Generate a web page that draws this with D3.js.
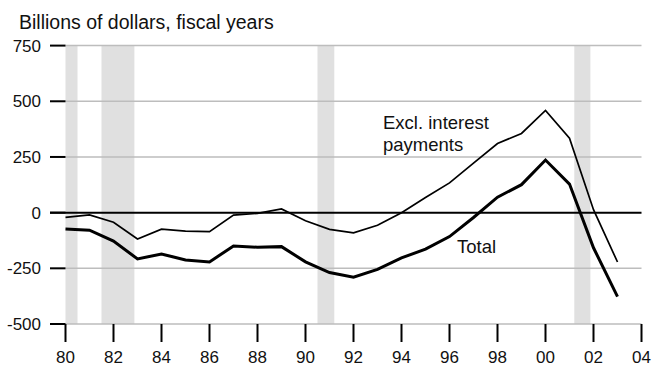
<!DOCTYPE html>
<html><head><meta charset="utf-8">
<script src="https://cdn.jsdelivr.net/npm/d3@7"></script>
<style>
html,body{margin:0;padding:0;background:#fff;}
svg{display:block;font-family:"Liberation Sans",Arial,Helvetica,sans-serif;}
</style></head>
<body>
<svg id="c" width="652" height="366"></svg>
<script>
const years = [1980,1981,1982,1983,1984,1985,1986,1987,1988,1989,1990,1991,1992,1993,1994,1995,1996,1997,1998,1999,2000,2001,2002,2003];
const total = [-73.8,-79.0,-128.0,-207.8,-185.4,-212.3,-221.2,-149.7,-155.2,-152.6,-221.0,-269.2,-290.3,-255.1,-203.2,-164.0,-107.4,-21.9,69.3,125.6,236.2,128.2,-157.8,-377.0];
const exclInterest = [-21.3,-10.2,-43.0,-118.0,-74.3,-82.8,-85.2,-11.1,-3.4,16.4,-36.7,-74.8,-91.0,-56.4,-0.3,68.1,133.7,222.1,310.4,355.4,459.1,334.4,13.2,-221.7];
const recessions = [[1980.0,1980.5],[1981.5,1982.87],[1990.5,1991.2],[2001.2,2001.87]];
const yTicks = [-500,-250,0,250,500,750];
const xTicks = [1980,1982,1984,1986,1988,1990,1992,1994,1996,1998,2000,2002,2004];
const xTickLabels = ["80","82","84","86","88","90","92","94","96","98","00","02","04"];
const yTitle = "Billions of dollars, fiscal years";
const labelExcl = ["Excl. interest","payments"];
const labelTotal = "Total";

const svg = d3.select("#c");
const x = d3.scaleLinear().domain([1980,2004]).range([65.5,641.5]);
const y = d3.scaleLinear().domain([-500,750]).range([324,45.6]);

// recession bands
svg.append("g").selectAll("rect").data(recessions).join("rect")
  .attr("x", d=>x(d[0])).attr("width", d=>x(d[1])-x(d[0]))
  .attr("y", y(750)).attr("height", y(-500)-y(750))
  .attr("fill","#e0e0e0");

// gridlines
svg.append("g").selectAll("line").data(yTicks.filter(v=>v!==0)).join("line")
  .attr("x1", x(1980)).attr("x2", x(2004))
  .attr("y1", d=>y(d)).attr("y2", d=>y(d))
  .attr("stroke","#bdbdbd").attr("stroke-width",1.5);

// y tick marks
svg.append("g").selectAll("line").data(yTicks).join("line")
  .attr("x1", 50).attr("x2", x(1980))
  .attr("y1", d=>y(d)).attr("y2", d=>y(d))
  .attr("stroke","#000").attr("stroke-width",2);

// zero line
svg.append("line").attr("x1",50).attr("x2",x(2004)).attr("y1",y(0)).attr("y2",y(0))
  .attr("stroke","#000").attr("stroke-width",2);

// y labels
svg.append("g").selectAll("text").data(yTicks).join("text")
  .attr("x", 41).attr("y", d=>y(d)).attr("dy","0.36em")
  .attr("text-anchor","end").attr("font-size",17).attr("fill","#111")
  .text(d=>d);

// x ticks
svg.append("g").selectAll("line").data(xTicks).join("line")
  .attr("x1", d=>x(d)).attr("x2", d=>x(d))
  .attr("y1", y(-500)).attr("y2", y(-500)+18)
  .attr("stroke","#000").attr("stroke-width",2);
svg.append("g").selectAll("text").data(xTicks).join("text")
  .attr("x", d=>x(d)).attr("y", 363)
  .attr("text-anchor","middle").attr("font-size",17).attr("fill","#111")
  .text((d,i)=>xTickLabels[i]);

// title
svg.append("text").attr("x",19).attr("y",29).attr("font-size",19.5).attr("fill","#111").text(yTitle);

// lines
const line = d3.line().x((d,i)=>x(years[i])).y(d=>y(d));
svg.append("path").datum(exclInterest).attr("d",line).attr("fill","none")
  .attr("stroke","#000").attr("stroke-width",1.7).attr("stroke-linejoin","miter");
svg.append("path").datum(total).attr("d",line).attr("fill","none")
  .attr("stroke","#000").attr("stroke-width",3).attr("stroke-linejoin","miter");

// labels
svg.append("text").attr("x",383).attr("font-size",18.5).attr("fill","#111")
  .selectAll("tspan").data(labelExcl).join("tspan")
  .attr("x",383).attr("y",(d,i)=>129+i*22).text(d=>d);
svg.append("text").attr("x",457).attr("y",253).attr("font-size",18.5).attr("fill","#111").text(labelTotal);
</script>
</body></html>
